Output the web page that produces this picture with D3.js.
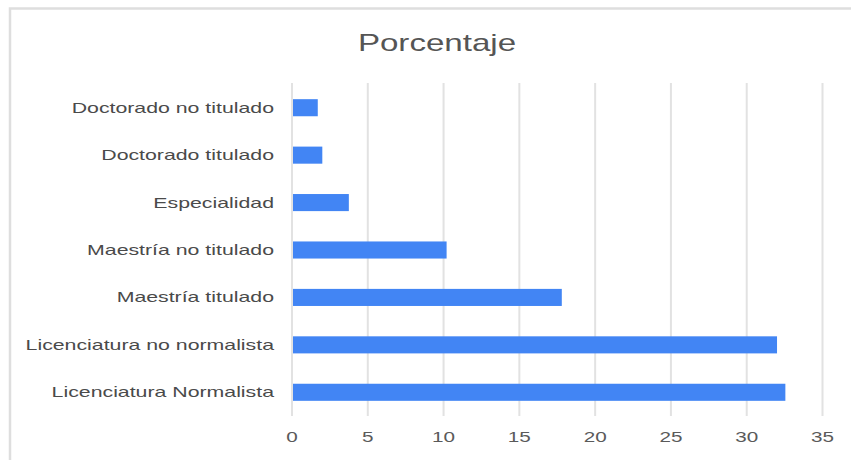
<!DOCTYPE html>
<html><head><meta charset="utf-8">
<script src="https://cdn.jsdelivr.net/npm/d3@7"></script>
<style>body{margin:0;background:#fff}svg{display:block}</style>
</head><body>
<script>
const categories = ["Doctorado no titulado","Doctorado titulado","Especialidad","Maestría no titulado","Maestría titulado","Licenciatura no normalista","Licenciatura Normalista"];
const values = [1.7, 2.0, 3.75, 10.2, 17.8, 32.0, 32.55];
const xTicks = [0,5,10,15,20,25,30,35];
const title = "Porcentaje";

const W = 851, H = 460, SX = 1.38, SXL = 1.42;
const svg = d3.select("body").append("svg").attr("width", W).attr("height", H);
const font = "'Liberation Sans', Arial, sans-serif";

svg.append("path").attr("d", `M10,${H} L10,8.5 L${W},8.5`).attr("fill","none").attr("stroke","#dedede").attr("stroke-width",2.5);

const x = d3.scaleLinear().domain([0,35]).range([292,822.5]);
const y = d3.scaleBand().domain(categories).range([84,416]).paddingInner(0.64).paddingOuter(0.32);

const g = svg.append("g");
g.selectAll("line.grid").data(xTicks).join("line").attr("class","grid")
  .attr("x1", d=>x(d)).attr("x2", d=>x(d)).attr("y1",83).attr("y2",416)
  .attr("stroke","#e2e2e2").attr("stroke-width",2);

g.selectAll("rect").data(values).join("rect")
  .attr("x", x(0)+1).attr("y",(d,i)=>y(categories[i]))
  .attr("width", d=>x(d)-x(0)-1).attr("height", y.bandwidth())
  .attr("fill","#4285f4");

g.selectAll("text.tick").data(xTicks).join("text").attr("class","tick")
  .attr("transform", d=>`translate(${x(d)},442) scale(${SX},1)`)
  .attr("text-anchor","middle").attr("font-family",font).attr("font-size",15).attr("fill","#5a5a5a")
  .text(d=>d);

g.selectAll("text.cat").data(categories).join("text").attr("class","cat")
  .attr("transform", d=>`translate(274,${y(d)+y.bandwidth()/2+5}) scale(${SXL},1)`)
  .attr("text-anchor","end").attr("font-family",font).attr("font-size",15).attr("fill","#4a4a4a")
  .text(d=>d);

svg.append("text").attr("transform",`translate(437,51) scale(${SX},1)`)
  .attr("text-anchor","middle").attr("font-family",font).attr("font-size",24).attr("fill","#555")
  .text(title);
</script>
</body></html>
